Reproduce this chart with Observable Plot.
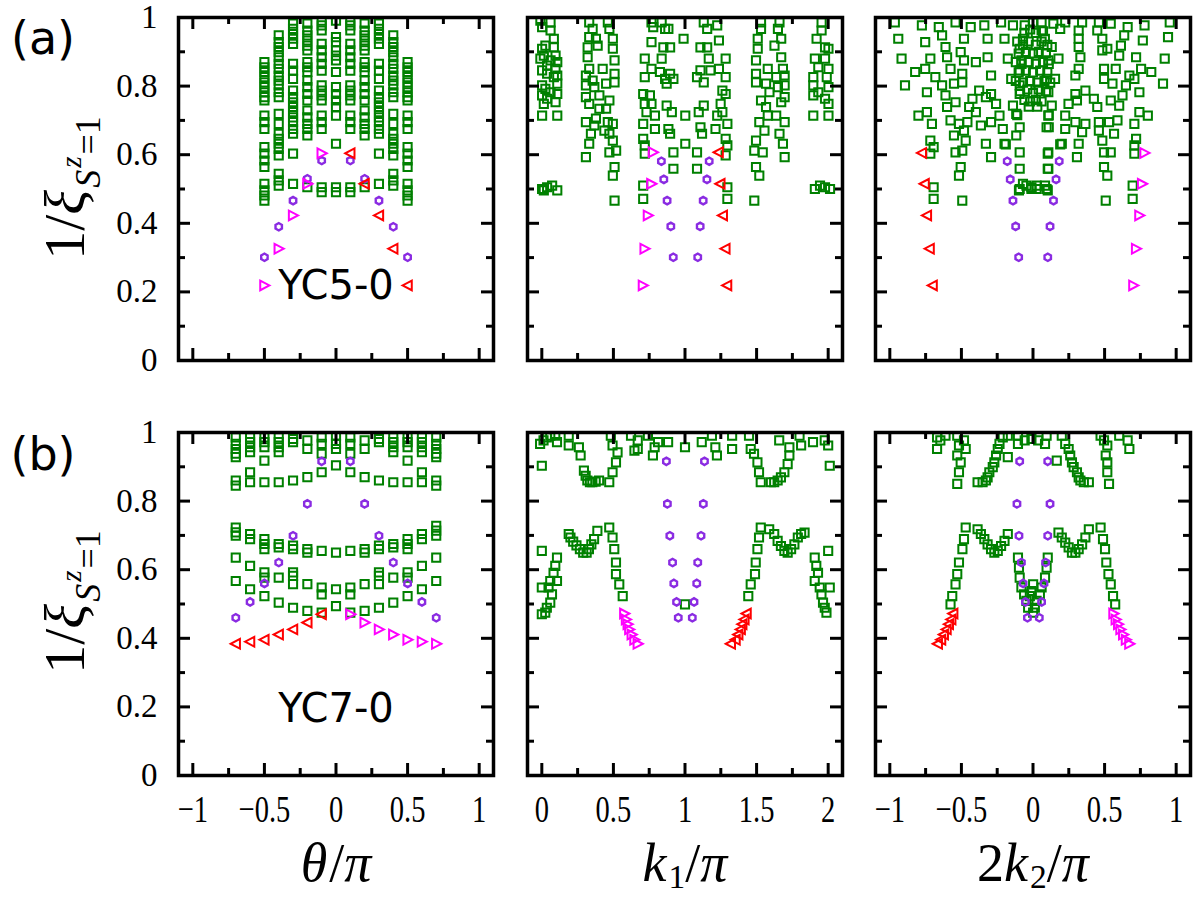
<!DOCTYPE html>
<html>
<head>
<meta charset="utf-8">
<script src="https://cdn.jsdelivr.net/npm/d3@7"></script>
<script src="https://cdn.jsdelivr.net/npm/@observablehq/plot@0.6"></script>
<style>
  html, body { margin: 0; padding: 0; background: #fff; }
  #chart { position: relative; width: 1200px; height: 900px; overflow: hidden; background: #fff; }
  #chart svg { position: absolute; background: transparent; overflow: visible; }
</style>
</head>
<body>
<div id="chart"></div>
<script>
// ---------- colours ----------
const GREEN = "#008000", VIOLET = "#8a2be2", MAGENTA = "#ff00ff", RED = "#ff0000";

// ---------- tick values ----------
const yMajor = [0, 0.2, 0.4, 0.6, 0.8, 1];
const yMinor = [0.1, 0.3, 0.5, 0.7, 0.9];
const symMajor = [-1, -0.5, 0, 0.5, 1];
const symMinor = [-0.75, -0.25, 0.25, 0.75];
const kMajor = [0, 0.5, 1, 1.5, 2];
const kMinor = [0.25, 0.75, 1.25, 1.75];

// ================= (a) YC5-0 =================
// columns of 1/xi versus theta/pi
const a1Theta = [-0.5, -0.4, -0.3, -0.2, -0.1, 0, 0.1, 0.2, 0.3, 0.4, 0.5];
const a1Levels = [
  [0.870,0.855,0.841,0.826,0.811,0.797,0.782,0.768,0.758,0.714,0.695,0.675,0.622,0.603,0.583,0.564,0.515,0.496,0.481,0.466],
  [0.948,0.928,0.914,0.899,0.884,0.865,0.850,0.831,0.816,0.802,0.782,0.768,0.719,0.690,0.661,0.646,0.632,0.617,0.598,0.544,0.525,0.510],
  [0.982,0.967,0.952,0.938,0.923,0.865,0.845,0.821,0.787,0.768,0.753,0.739,0.724,0.709,0.695,0.675,0.661,0.603,0.515],
  [0.982,0.962,0.948,0.933,0.918,0.904,0.870,0.855,0.841,0.816,0.797,0.777,0.758,0.729,0.709,0.690,0.675,0.656,0.505],
  [0.991,0.977,0.962,0.923,0.904,0.884,0.865,0.845,0.802,0.787,0.773,0.758,0.714,0.695,0.675,0.505,0.491],
  [0.991,0.943,0.928,0.904,0.889,0.875,0.841,0.797,0.777,0.758,0.739,0.714,0.632,0.505,0.491],
  [0.991,0.977,0.962,0.923,0.904,0.884,0.865,0.845,0.802,0.787,0.773,0.758,0.714,0.695,0.675,0.505,0.491],
  [0.982,0.962,0.948,0.933,0.918,0.904,0.870,0.855,0.841,0.816,0.797,0.777,0.758,0.729,0.709,0.690,0.675,0.656,0.505],
  [0.982,0.967,0.952,0.938,0.923,0.865,0.845,0.821,0.787,0.768,0.753,0.739,0.724,0.709,0.695,0.675,0.661,0.603,0.515],
  [0.948,0.928,0.914,0.899,0.884,0.865,0.850,0.831,0.816,0.802,0.782,0.768,0.719,0.690,0.661,0.646,0.632,0.617,0.598,0.544,0.525,0.510],
  [0.870,0.855,0.841,0.826,0.811,0.797,0.782,0.768,0.758,0.714,0.695,0.675,0.622,0.603,0.583,0.564,0.515,0.496,0.481,0.466]
];
const a1Hexagons = [[-0.5,0.301],[-0.4,0.390],[-0.3,0.466],[-0.2,0.530],[-0.1,0.583],[0.1,0.583],[0.2,0.530],[0.3,0.466],[0.4,0.390],[0.5,0.301]];
const a1Right = [[-0.5,0.219],[-0.4,0.326],[-0.3,0.423],[-0.2,0.515],[-0.1,0.604]];
const a1Left = [[0.1,0.604],[0.2,0.515],[0.3,0.423],[0.4,0.326],[0.5,0.219]];

// 1/xi versus k1/pi
const a2Squares = [
  [-0.010,0.991],[0.061,0.986],[0.002,0.972],[0.061,0.962],[0.084,0.938],[0.025,0.918],[0.084,0.913],[0.002,0.909],
  [0.014,0.889],[0.096,0.889],[-0.010,0.880],[0.061,0.875],[0.108,0.870],[0.037,0.860],[0.002,0.846],[0.096,0.850],
  [0.108,0.831],[0.037,0.836],[0.084,0.826],[0.002,0.802],[0.108,0.807],[0.025,0.792],[0.061,0.782],[0.002,0.773],
  [0.108,0.777],[0.037,0.763],[0.096,0.753],[0.014,0.748],[0.002,0.714],[0.108,0.714],
  [0.002,0.500],[0.037,0.505],[0.072,0.510],[0.108,0.496],[0.014,0.496],
  [0.331,0.986],[0.461,0.986],[0.355,0.967],[0.472,0.967],[0.331,0.943],[0.378,0.938],[0.496,0.938],[0.320,0.913],
  [0.390,0.918],[0.496,0.909],[0.320,0.884],[0.508,0.875],[0.331,0.850],[0.425,0.850],[0.308,0.831],[0.508,0.836],
  [0.355,0.816],[0.449,0.807],[0.308,0.802],[0.508,0.811],[0.367,0.797],[0.308,0.768],[0.402,0.773],[0.331,0.748],
  [0.472,0.758],[0.402,0.734],[0.449,0.734],[0.378,0.705],[0.308,0.695],[0.367,0.685],[0.461,0.695],[0.496,0.690],
  [0.343,0.661],[0.437,0.670],[0.472,0.661],[0.331,0.632],[0.496,0.641],[0.472,0.607],[0.519,0.612],[0.308,0.593],
  [0.508,0.564],[0.496,0.539],[0.508,0.466],
  [0.766,0.986],[0.837,0.986],[0.778,0.972],[0.861,0.967],[0.884,0.967],[0.990,0.938],[0.766,0.928],[0.849,0.913],
  [0.896,0.913],[0.719,0.880],[0.837,0.880],[0.766,0.850],[0.825,0.841],[0.896,0.836],[0.719,0.826],[0.861,0.821],
  [0.919,0.821],[0.872,0.807],[0.708,0.777],[0.755,0.773],[0.719,0.748],[0.766,0.748],[0.872,0.743],[0.908,0.724],
  [0.731,0.724],[0.790,0.714],[1.002,0.714],[0.708,0.690],[0.790,0.675],[0.884,0.675],[0.896,0.661],[0.708,0.646],
  [0.719,0.627],[1.002,0.632],[0.719,0.603],[0.919,0.607],[0.919,0.559],[0.708,0.510],[0.708,0.471],
  [1.131,0.986],[1.225,0.977],[1.155,0.967],[1.237,0.933],[1.108,0.913],[1.155,0.913],[1.166,0.880],[1.284,0.880],
  [1.237,0.850],[1.108,0.846],[1.178,0.846],[1.084,0.826],[1.131,0.811],[1.284,0.826],[1.261,0.787],[1.284,0.777],
  [1.249,0.748],[1.131,0.743],[1.096,0.724],[1.261,0.724],[1.225,0.714],[1.296,0.690],[1.108,0.680],[1.119,0.661],
  [1.213,0.675],[1.284,0.646],[1.296,0.627],[1.084,0.607],[1.284,0.598],[1.084,0.559],[1.296,0.505],[1.296,0.471],
  [1.531,0.986],[1.660,0.986],[1.531,0.967],[1.649,0.967],[1.508,0.938],[1.672,0.938],[1.625,0.918],[1.508,0.909],
  [1.672,0.884],[1.496,0.875],[1.578,0.850],[1.684,0.850],[1.496,0.836],[1.637,0.826],[1.496,0.811],[1.566,0.807],
  [1.696,0.831],[1.649,0.797],[1.696,0.802],[1.590,0.782],[1.696,0.768],[1.531,0.758],[1.672,0.753],[1.566,0.739],
  [1.578,0.714],[1.637,0.714],[1.696,0.695],[1.519,0.695],[1.555,0.670],[1.660,0.661],[1.496,0.641],[1.684,0.632],
  [1.484,0.612],[1.543,0.607],[1.696,0.593],[1.496,0.564],[1.519,0.539],[1.484,0.466],
  [1.954,0.986],[1.954,0.962],[1.919,0.938],[1.978,0.913],[2.002,0.909],[1.907,0.880],[1.931,0.855],[2.002,0.850],
  [1.978,0.880],[1.896,0.826],[1.990,0.826],[1.896,0.802],[1.931,0.782],[2.002,0.797],[1.896,0.773],[1.978,0.763],
  [2.002,0.748],[1.896,0.714],[2.002,0.714],
  [1.907,0.500],[1.943,0.510],[1.978,0.505],[2.013,0.500]
];
const a2Hexagons = [[0.835,0.581],[0.852,0.528],[0.875,0.466],[0.901,0.391],[0.918,0.301],[1.169,0.581],[1.153,0.528],[1.127,0.466],[1.106,0.391],[1.089,0.301]];
const a2Right = [[0.776,0.607],[0.765,0.515],[0.741,0.423],[0.718,0.326],[0.706,0.219]];
const a2Left = [[1.235,0.607],[1.247,0.515],[1.264,0.423],[1.282,0.326],[1.294,0.219]];

// 1/xi versus 2k2/pi
const a3Squares = [
  [-0.965,0.986],[-0.776,0.977],[-0.658,0.972],[-0.541,0.986],[-0.435,0.972],[-0.340,0.977],[-0.223,0.986],[-0.140,0.977],
  [-0.058,0.977],[-0.941,0.938],[-0.753,0.928],[-0.635,0.948],[-0.611,0.914],[-0.482,0.938],[-0.317,0.938],[-0.199,0.938],
  [-0.070,0.938],[-0.918,0.880],[-0.717,0.880],[-0.600,0.884],[-0.505,0.899],[-0.482,0.875],[-0.317,0.884],[-0.176,0.880],
  [-0.093,0.909],[-0.081,0.875],[-0.823,0.841],[-0.753,0.850],[-0.576,0.850],[-0.494,0.836],[-0.399,0.870],[-0.293,0.831],
  [-0.152,0.821],[-0.093,0.846],[-0.894,0.802],[-0.682,0.826],[-0.635,0.802],[-0.552,0.807],[-0.494,0.811],[-0.376,0.787],
  [-0.293,0.777],[-0.093,0.802],[-0.741,0.782],[-0.611,0.773],[-0.423,0.763],[-0.329,0.768],[-0.258,0.748],[-0.446,0.739],
  [-0.140,0.743],[-0.093,0.777],[-0.800,0.714],[-0.741,0.724],[-0.600,0.739],[-0.541,0.753],[-0.399,0.724],[-0.234,0.714],
  [-0.117,0.719],[-0.093,0.680],[-0.706,0.690],[-0.576,0.700],[-0.517,0.690],[-0.458,0.695],[-0.364,0.685],[-0.293,0.695],
  [-0.211,0.675],[-0.117,0.656],[-0.717,0.641],[-0.694,0.622],[-0.552,0.656],[-0.482,0.670],[-0.470,0.641],[-0.329,0.632],
  [-0.199,0.632],[-0.717,0.603],[-0.541,0.607],[-0.494,0.612],[-0.293,0.593],[-0.093,0.607],[-0.505,0.564],[-0.517,0.539],
  [-0.093,0.559],[-0.070,0.515],[-0.093,0.500],[-0.011,0.500],[-0.694,0.505],[-0.694,0.471],[-0.494,0.466],
  [0.060,0.986],[0.142,0.982],[0.225,0.986],[0.343,0.986],[0.460,0.986],[0.543,0.982],[0.661,0.972],[0.779,0.977],
  [0.955,0.986],[0.060,0.962],[0.190,0.967],[0.319,0.962],[0.449,0.962],[0.484,0.938],[0.614,0.918],[0.637,0.948],
  [0.767,0.933],[0.943,0.943],[0.083,0.938],[0.131,0.914],[0.178,0.880],[0.319,0.938],[0.319,0.914],[0.331,0.884],
  [0.484,0.904],[0.519,0.909],[0.602,0.889],[0.720,0.884],[0.920,0.880],[0.107,0.875],[0.319,0.850],[0.296,0.831],
  [0.496,0.850],[0.578,0.850],[0.673,0.831],[0.708,0.821],[0.755,0.850],[0.826,0.841],[0.908,0.807],[0.095,0.821],
  [0.154,0.821],[0.496,0.821],[0.555,0.807],[0.649,0.802],[0.743,0.782],[0.625,0.773],[0.107,0.782],[0.296,0.777],
  [0.366,0.787],[0.425,0.763],[0.543,0.758],[0.602,0.743],[0.131,0.743],[0.248,0.748],[0.307,0.758],[0.449,0.739],
  [0.743,0.724],[0.802,0.714],[0.107,0.714],[0.225,0.714],[0.296,0.695],[0.366,0.690],[0.460,0.695],[0.531,0.695],
  [0.590,0.700],[0.708,0.690],[0.095,0.680],[0.225,0.675],[0.343,0.666],[0.460,0.670],[0.566,0.661],[0.708,0.627],
  [0.720,0.646],[0.201,0.632],[0.319,0.632],[0.484,0.641],[0.496,0.607],[0.543,0.607],[0.708,0.603],[0.107,0.607],
  [0.307,0.593],[0.107,0.559],[0.496,0.564],[0.519,0.539],[0.696,0.510],[0.095,0.500],[0.025,0.510],[0.508,0.466],
  [0.696,0.471],
  [-0.11,0.930],[-0.07,0.920],[-0.03,0.930],[0.02,0.920],[0.06,0.930],[0.10,0.920],[-0.10,0.895],[-0.05,0.900],
  [0.00,0.895],[0.04,0.900],[0.09,0.895],[-0.12,0.870],[-0.08,0.865],[-0.03,0.870],[0.02,0.865],[0.07,0.870],
  [0.11,0.865],[-0.10,0.840],[-0.05,0.845],[0.00,0.840],[0.05,0.845],[0.10,0.840],[-0.12,0.815],[-0.07,0.810],
  [-0.02,0.815],[0.03,0.810],[0.08,0.815],[0.12,0.810],[-0.09,0.785],[-0.04,0.790],[0.00,0.780],[0.04,0.790],
  [0.09,0.785],[-0.06,0.760],[-0.02,0.755],[0.02,0.760],[0.06,0.755],[-0.03,0.740],[0.03,0.740],
  [-0.02,0.965],[0.02,0.955],[0.00,0.985],[-0.06,0.955],[0.07,0.960],
  [-0.11,0.715],[0.11,0.715],[0.11,0.680],[-0.19,0.630],[0.19,0.630],
  [-0.098,0.496],[-0.046,0.510],[-0.011,0.505],[0.025,0.500],[0.084,0.510],[0.103,0.496],[0.103,0.603],[0.103,0.559]
];
const a3Hexagons = [[-0.180,0.581],[0.183,0.581],[-0.159,0.528],[0.161,0.528],[-0.140,0.466],[0.143,0.466],[-0.121,0.391],[0.119,0.391],[-0.100,0.301],[0.103,0.301]];
const a3Right = [[0.779,0.605],[0.762,0.515],[0.743,0.423],[0.720,0.326],[0.701,0.219]];
const a3Left = [[-0.776,0.605],[-0.757,0.515],[-0.741,0.423],[-0.722,0.326],[-0.701,0.219]];

// ================= (b) YC7-0 =================
const b1Theta = [-0.7, -0.6, -0.5, -0.4, -0.3, -0.2, -0.1, 0, 0.1, 0.2, 0.3, 0.4, 0.5, 0.6, 0.7];
const b1Levels = [
  [0.986,0.967,0.952,0.938,0.928,0.860,0.845,0.723,0.709,0.699,0.635,0.567],
  [0.986,0.972,0.957,0.943,0.884,0.855,0.704,0.689,0.611,0.543],
  [0.986,0.972,0.957,0.918,0.855,0.689,0.675,0.660,0.592,0.577,0.523],
  [0.986,0.972,0.957,0.943,0.855,0.675,0.665,0.577,0.504],
  [0.981,0.972,0.860,0.670,0.660,0.592,0.582,0.558,0.489],
  [0.977,0.952,0.870,0.660,0.650,0.558,0.480],
  [0.986,0.967,0.938,0.884,0.655,0.548,0.528,0.475],
  [0.991,0.967,0.952,0.904,0.650,0.543,0.494],
  [0.986,0.967,0.938,0.884,0.655,0.548,0.528,0.475],
  [0.977,0.952,0.870,0.660,0.650,0.558,0.480],
  [0.981,0.972,0.860,0.670,0.660,0.592,0.582,0.558,0.489],
  [0.986,0.972,0.957,0.943,0.855,0.675,0.665,0.577,0.504],
  [0.986,0.972,0.957,0.918,0.855,0.689,0.675,0.660,0.592,0.577,0.523],
  [0.986,0.972,0.957,0.943,0.884,0.855,0.704,0.689,0.611,0.543],
  [0.986,0.967,0.952,0.938,0.928,0.860,0.845,0.728,0.714,0.699,0.635,0.567]
];
const b1Hexagons = [[-0.7,0.460],[-0.6,0.506],[-0.5,0.560],[-0.4,0.621],[-0.3,0.699],[-0.2,0.792],[-0.1,0.916],
                    [0.1,0.916],[0.2,0.792],[0.3,0.699],[0.4,0.621],[0.5,0.560],[0.6,0.506],[0.7,0.460]];
const b1Left = [[-0.7,0.384],[-0.6,0.390],[-0.5,0.396],[-0.4,0.411],[-0.3,0.426],[-0.2,0.446],[-0.1,0.470]];
const b1Right = [[0.1,0.470],[0.2,0.446],[0.3,0.426],[0.4,0.411],[0.5,0.396],[0.6,0.390],[0.7,0.384]];

const b2Squares = [
  [-0.012,0.967],[0.012,0.977],[0.035,0.986],[0.059,0.991],[0.094,0.991],[0.106,0.972],[0.188,0.991],[0.188,0.962],
  [0.259,0.957],[0.271,0.933],[0.482,0.991],[0.494,0.962],[0.529,0.942],[0.518,0.913],[0.623,0.991],[0.670,0.977],
  [0.670,0.952],[0.647,0.947],[0.741,0.991],[0.788,0.957],[0.776,0.933],[0.812,0.972],[0.882,0.972],[1.000,0.957],
  [1.117,0.972],[0.000,0.903],
  [1.188,0.991],[1.212,0.957],[1.223,0.933],[1.329,0.991],[1.329,0.952],[1.447,0.991],[1.459,0.952],[1.482,0.938],
  [1.506,0.913],[1.658,0.977],[1.729,0.957],[1.729,0.933],[1.800,0.991],[1.811,0.962],[1.894,0.972],[1.976,0.977],
  [2.000,0.962],[2.011,0.903],
  [0.294,0.889],[0.306,0.874],[0.318,0.860],[0.336,0.855],[0.353,0.855],[0.376,0.857],[0.400,0.860],[0.471,0.855],
  [0.494,0.884],
  [1.517,0.884],[1.529,0.855],[1.600,0.855],[1.623,0.855],[1.647,0.860],[1.670,0.869],[1.694,0.884],[1.717,0.908],
  [0.188,0.704],[0.200,0.694],[0.219,0.682],[0.242,0.671],[0.266,0.660],[0.289,0.650],[0.313,0.650],[0.329,0.660],
  [0.346,0.674],[0.365,0.689],[0.388,0.713],
  [0.471,0.723],[0.494,0.694],[0.506,0.660],[0.518,0.621],[0.518,0.587],[0.541,0.557],[0.565,0.523],
  [0.000,0.655],[0.106,0.635],[0.094,0.611],[0.082,0.591],[0.106,0.567],[0.059,0.567],[0.047,0.548],[0.000,0.548],
  [0.071,0.528],[0.059,0.504],[0.035,0.489],[0.024,0.475],[0.000,0.470],
  [1.529,0.723],[1.517,0.694],[1.506,0.660],[1.494,0.621],[1.489,0.587],[1.459,0.557],[1.442,0.523],
  [1.588,0.718],[1.623,0.704],[1.647,0.684],[1.670,0.669],[1.694,0.655],[1.717,0.650],[1.741,0.660],[1.764,0.674],
  [1.788,0.694],[1.811,0.704],[1.835,0.708],
  [1.906,0.635],[1.917,0.611],[1.929,0.591],[1.906,0.567],[1.941,0.548],[1.953,0.528],[1.964,0.504],[1.976,0.489],
  [1.988,0.475],[2.011,0.548],[2.000,0.655],
  [1.000,0.499]
];
const b2Hexagons = [[0.870,0.916],[1.136,0.916],[0.877,0.792],[1.128,0.792],[0.894,0.699],[1.112,0.699],[0.913,0.621],[1.089,0.621],
                    [0.922,0.560],[1.082,0.560],[0.941,0.506],[1.063,0.506],[0.953,0.460],[1.051,0.460]];
const b2Right = [[0.576,0.472],[0.588,0.455],[0.600,0.441],[0.611,0.426],[0.628,0.411],[0.647,0.396],[0.670,0.384]];
const b2Left = [[1.430,0.472],[1.415,0.455],[1.400,0.441],[1.389,0.426],[1.372,0.411],[1.353,0.396],[1.320,0.384]];

const b3Squares = [
  [-0.670,0.986],[-0.670,0.952],[-0.647,0.977],[-0.611,0.991],[-0.529,0.991],[-0.517,0.962],[-0.529,0.933],[-0.505,0.913],
  [-0.517,0.884],[-0.529,0.850],[-0.482,0.977],[-0.470,0.952],
  [-0.387,0.855],[-0.352,0.855],[-0.329,0.860],[-0.317,0.869],[-0.305,0.884],[-0.281,0.899],[-0.270,0.913],[-0.258,0.933],
  [-0.246,0.952],[-0.234,0.967],[-0.211,0.986],[-0.176,0.991],
  [-0.105,0.991],[-0.105,0.967],[-0.058,0.977],[-0.011,0.981],[0.036,0.977],[0.084,0.967],[0.095,0.991],[-0.176,0.928],
  [0.166,0.918],
  [0.225,0.967],[0.249,0.952],[0.260,0.933],[0.272,0.913],[0.284,0.899],[0.307,0.884],[0.319,0.869],[0.331,0.860],
  [0.355,0.855],[0.390,0.855],[0.201,0.991],
  [0.472,0.991],[0.496,0.977],[0.519,0.962],[0.508,0.933],[0.519,0.913],[0.519,0.884],[0.531,0.850],[0.602,0.991],
  [0.661,0.977],[0.673,0.952],
  [-0.470,0.723],[-0.482,0.689],[-0.493,0.660],[-0.517,0.621],[-0.529,0.587],[-0.541,0.557],[-0.564,0.523],[-0.576,0.499],
  [-0.387,0.718],[-0.364,0.704],[-0.340,0.689],[-0.317,0.674],[-0.293,0.660],[-0.270,0.650],[-0.246,0.655],[-0.223,0.669],
  [-0.199,0.684],[-0.176,0.704],
  [0.178,0.708],[0.201,0.694],[0.225,0.679],[0.249,0.665],[0.272,0.650],[0.296,0.650],[0.319,0.660],[0.343,0.674],
  [0.366,0.694],[0.390,0.718],
  [0.472,0.723],[0.489,0.689],[0.503,0.660],[0.512,0.621],[0.527,0.587],[0.543,0.557],[0.559,0.523],[0.574,0.499],
  [-0.105,0.635],[-0.098,0.606],[-0.093,0.577],[-0.081,0.548],[-0.062,0.528],[-0.046,0.509],[-0.034,0.489],
  [0.103,0.635],[0.095,0.606],[0.084,0.577],[0.060,0.548],[0.048,0.528],[0.025,0.509],[0.013,0.489],
  [0.001,0.557],[-0.011,0.538],[0.001,0.475],[-0.022,0.523]
];
const b3Hexagons = [[-0.093,0.916],[0.103,0.916],[-0.112,0.792],[0.119,0.792],[-0.098,0.699],[0.103,0.699],[-0.081,0.621],[0.088,0.621],
                    [-0.069,0.560],[0.077,0.560],[-0.053,0.506],[0.060,0.506],[-0.039,0.460],[0.044,0.460]];
const b3Left = [[-0.557,0.472],[-0.571,0.455],[-0.588,0.441],[-0.604,0.426],[-0.623,0.411],[-0.642,0.396],[-0.665,0.384]];
const b3Right = [[0.562,0.472],[0.578,0.455],[0.595,0.441],[0.611,0.426],[0.630,0.411],[0.649,0.396],[0.673,0.384]];

// ---------- helpers ----------
const fromColumns = (xs, cols) => xs.flatMap((x, i) => cols[i].map(v => [x, v]));
const tickFmt = d3.format("~g");

// open triangles pointing right / left, built around the symbol size Plot passes in
const triRight = { draw(c, size) { const s = Math.sqrt(size / Math.PI); c.moveTo(1.15 * s, 0); c.lineTo(-0.95 * s, 1.1 * s); c.lineTo(-0.95 * s, -1.1 * s); c.closePath(); } };
const triLeft  = { draw(c, size) { const s = Math.sqrt(size / Math.PI); c.moveTo(-1.15 * s, 0); c.lineTo(0.95 * s, 1.1 * s); c.lineTo(0.95 * s, -1.1 * s); c.closePath(); } };

const W = 315, H = 343;
const SERIF = "Liberation Serif, serif";

function panel(cfg) {
  const mL = cfg.showY ? 130 : 20, mR = 20, mT = 20, mB = cfg.showX ? 80 : 20;
  const px = { x: d => d[0], y: d => d[1], fill: "none", clip: true };
  const marks = [
    Plot.dot(cfg.squares, { ...px, symbol: "square", r: 4.6, stroke: GREEN, strokeWidth: 2 }),
    Plot.dot(cfg.hexagons, { ...px, symbol: "hexagon", r: 3.2, stroke: VIOLET, strokeWidth: 2.4 }),
    Plot.dot(cfg.rightTri, { ...px, symbol: triRight, r: 4.4, stroke: MAGENTA, strokeWidth: 2 }),
    Plot.dot(cfg.leftTri, { ...px, symbol: triLeft, r: 4.4, stroke: RED, strokeWidth: 2 }),
    // inward ticks on all four sides
    Plot.tickX(cfg.xMajor, { x: d => d, insetTop: H - 12, strokeWidth: 3 }),
    Plot.tickX(cfg.xMajor, { x: d => d, insetBottom: H - 12, strokeWidth: 3 }),
    Plot.tickX(cfg.xMinor, { x: d => d, insetTop: H - 7, strokeWidth: 3 }),
    Plot.tickX(cfg.xMinor, { x: d => d, insetBottom: H - 7, strokeWidth: 3 }),
    Plot.tickY(yMajor, { y: d => d, insetRight: W - 12, strokeWidth: 3 }),
    Plot.tickY(yMajor, { y: d => d, insetLeft: W - 12, strokeWidth: 3 }),
    Plot.tickY(yMinor, { y: d => d, insetRight: W - 7, strokeWidth: 3 }),
    Plot.tickY(yMinor, { y: d => d, insetLeft: W - 7, strokeWidth: 3 }),
    Plot.frame({ stroke: "black", strokeWidth: 3.5 })
  ];
  if (cfg.tag) marks.push(Plot.text([cfg.tag], { text: d => d, frameAnchor: "bottom", dy: cfg.tagDy, fontSize: 40, fontFamily: "DejaVu Sans, sans-serif", fill: "black" }));
  if (cfg.showY) marks.push(Plot.axisY({ ticks: yMajor, tickFormat: tickFmt, tickSize: 0, tickPadding: 21, fontSize: 33, fontFamily: SERIF, label: null }));
  if (cfg.showX) marks.push(Plot.axisX({ ticks: cfg.xMajor, tickFormat: tickFmt, tickSize: 0, tickPadding: 20, fontSize: 38, fontFamily: SERIF, label: null }));
  const svg = Plot.plot({
    width: mL + W + mR, height: mT + H + mB,
    marginLeft: mL, marginRight: mR, marginTop: mT, marginBottom: mB,
    x: { domain: cfg.xDomain, ...(cfg.showX ? {} : { axis: null }) },
    y: { domain: [0, 1], ...(cfg.showY ? {} : { axis: null }) },
    style: { background: "transparent", overflow: "visible" },
    marks
  });
  // the x tick numerals are set in a narrow face
  svg.querySelectorAll('g[aria-label="x-axis tick label"] text').forEach(t => {
    const tr = t.getAttribute("transform") || "";
    t.setAttribute("transform", tr + " scale(0.75,1)");
  });
  svg.style.left = (cfg.x0 - mL) + "px";
  svg.style.top = (cfg.y0 - mT) + "px";
  return svg;
}

const chart = document.getElementById("chart");
const cols = [
  { x0: 178, xDomain: [-1.1, 1.1], xMajor: symMajor, xMinor: symMinor },
  { x0: 527, xDomain: [-0.1, 2.1], xMajor: kMajor, xMinor: kMinor },
  { x0: 875, xDomain: [-1.1, 1.1], xMajor: symMajor, xMinor: symMinor }
];
const rows = [
  { y0: 17, panels: [
    { squares: fromColumns(a1Theta, a1Levels), hexagons: a1Hexagons, rightTri: a1Right, leftTri: a1Left, tag: "YC5-0", tagDy: -62 },
    { squares: a2Squares, hexagons: a2Hexagons, rightTri: a2Right, leftTri: a2Left },
    { squares: a3Squares, hexagons: a3Hexagons, rightTri: a3Right, leftTri: a3Left }
  ]},
  { y0: 432, panels: [
    { squares: fromColumns(b1Theta, b1Levels), hexagons: b1Hexagons, rightTri: b1Right, leftTri: b1Left, tag: "YC7-0", tagDy: -54 },
    { squares: b2Squares, hexagons: b2Hexagons, rightTri: b2Right, leftTri: b2Left },
    { squares: b3Squares, hexagons: b3Hexagons, rightTri: b3Right, leftTri: b3Left }
  ]}
];
rows.forEach((row, ri) => row.panels.forEach((p, ci) => {
  const c = cols[ci];
  chart.appendChild(panel({
    ...p, x0: c.x0, y0: row.y0, xDomain: c.xDomain, xMajor: c.xMajor, xMinor: c.xMinor,
    showY: ci === 0, showX: ri === 1
  }));
}));

// ---------- panel tags and axis titles (one overlay svg) ----------
const overlay = d3.select(chart).append("svg")
  .attr("width", 1200).attr("height", 900)
  .style("left", "0px").style("top", "0px").style("pointer-events", "none");

// a title is a row of runs laid side by side: [text, italic, size factor, baseline shift in em]
function title(cx, cy, runs, size, rotate) {
  const g = overlay.append("g")
    .attr("transform", `translate(${cx},${cy})${rotate ? " rotate(-90)" : ""}`);
  const nodes = runs.map(([s, it, f, b]) => g.append("text")
    .attr("font-family", SERIF)
    .attr("font-style", it ? "italic" : "normal")
    .attr("font-size", size * f)
    .attr("y", b * size)
    .attr("fill", "black")
    .text(s));
  const widths = nodes.map(n => n.node().getComputedTextLength());
  let x = -d3.sum(widths) / 2;
  nodes.forEach((n, i) => { n.attr("x", x); x += widths[i] + (runs[i][1] ? 2 : 0); });
}
const yTitleRuns = [["1/", false, 1, 0], ["ξ", true, 1, 0], ["S", true, 0.62, 0.28], ["z", true, 0.5, -0.05], ["=1", false, 0.62, 0.28]];
title(84, 191, yTitleRuns, 58, true);
title(84, 605, yTitleRuns, 58, true);
title(335, 881, [["θ", true, 1, 0], ["/", false, 1, 0], ["π", true, 1, 0]], 54, false);
title(684, 881, [["k", true, 1, 0], ["1", false, 0.62, 0.13], ["/", false, 1, 0], ["π", true, 1, 0]], 54, false);
title(1032, 881, [["2", false, 1, 0], ["k", true, 1, 0], ["2", false, 0.62, 0.13], ["/", false, 1, 0], ["π", true, 1, 0]], 54, false);

overlay.selectAll("text.tag").data([["(a)", 37], ["(b)", 453]]).join("text")
  .attr("class", "tag")
  .attr("x", 43).attr("y", d => d[1])
  .attr("dy", "0.36em")
  .attr("text-anchor", "middle")
  .attr("font-family", "DejaVu Sans, sans-serif")
  .attr("font-size", 46)
  .attr("fill", "black")
  .text(d => d[0]);
</script>
</body>
</html>
